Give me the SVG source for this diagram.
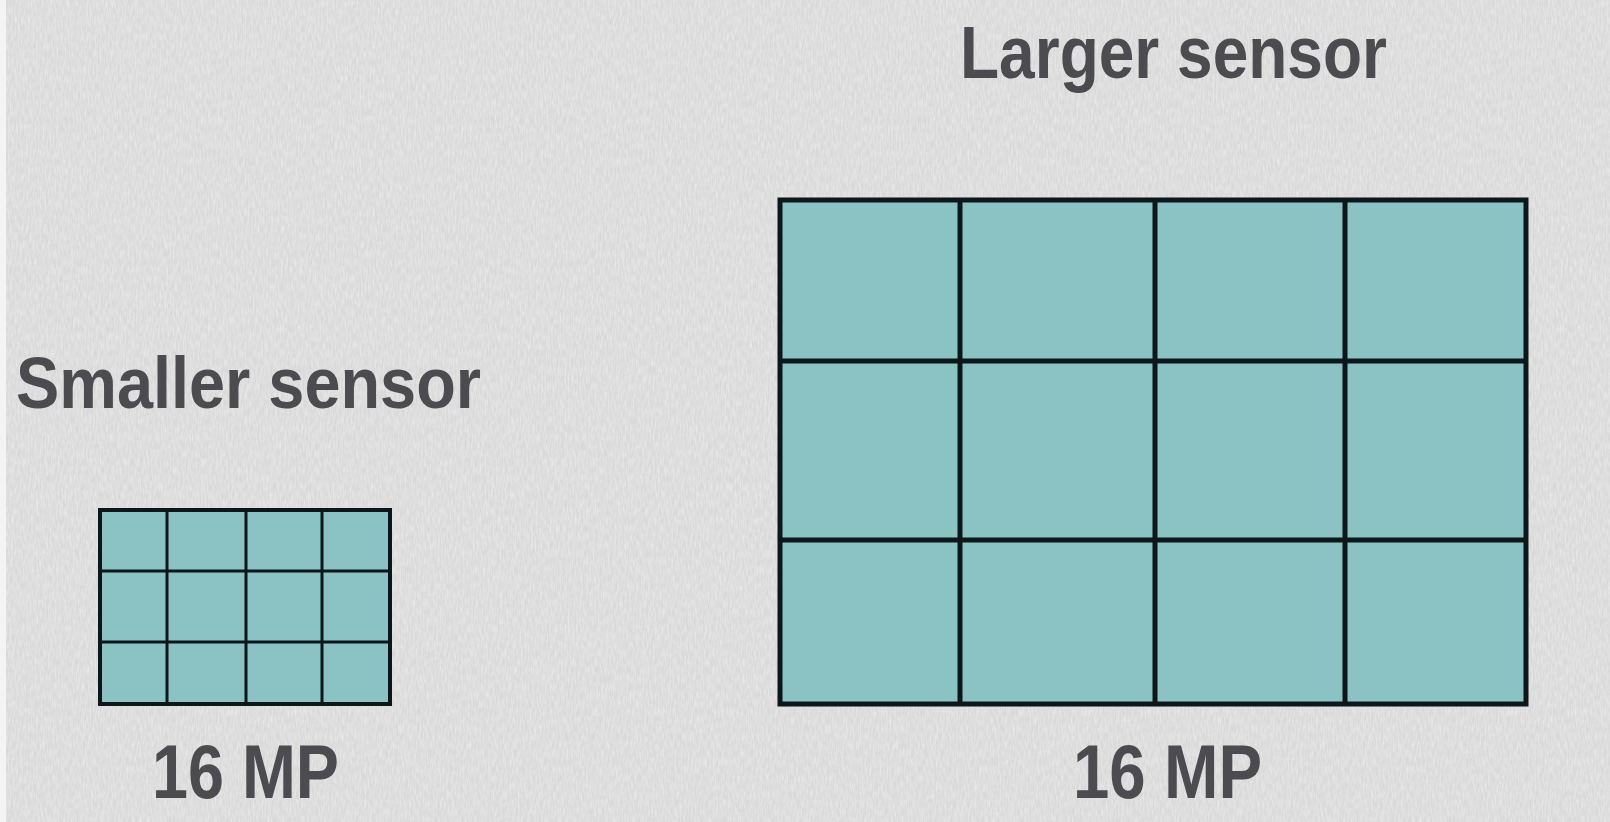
<svg xmlns="http://www.w3.org/2000/svg" width="1610" height="822" viewBox="0 0 1610 822">
<style>
.lbl{font-family:"Liberation Sans",Arial,sans-serif;font-weight:bold;fill:#4c4c50}
.cell{fill:#8bc3c5}
.line{stroke:#0d1719;fill:none}
</style>
<defs>
<filter id="paper" x="0" y="0" width="100%" height="100%">
<feTurbulence type="fractalNoise" baseFrequency="0.6 0.12" numOctaves="3" seed="4" result="n"/>
<feColorMatrix type="matrix" values="0 0 0 0 1  0 0 0 0 1  0 0 0 0 1  0 0 0 0.7 -0.22"/>
</filter>
</defs>
<rect x="0" y="0" width="1610" height="822" fill="#d9d9da"/>
<rect x="0" y="0" width="1610" height="822" filter="url(#paper)"/>
<rect x="0" y="0" width="6" height="822" fill="#f4f4f4"/>
<g id="large-title"><text class="lbl" x="960" y="78" font-size="75" textLength="427" lengthAdjust="spacingAndGlyphs">Larger sensor</text></g>
<g id="small-title"><text class="lbl" x="16" y="408" font-size="72" textLength="465" lengthAdjust="spacingAndGlyphs">Smaller sensor</text></g>
<g id="small-sensor">
<rect class="cell" x="100" y="510" width="290" height="194"/>
<g class="line" stroke-width="3">
<line x1="167" y1="510" x2="167" y2="704"/>
<line x1="246" y1="510" x2="246" y2="704"/>
<line x1="322" y1="510" x2="322" y2="704"/>
<line x1="100" y1="571" x2="390" y2="571"/>
<line x1="100" y1="642" x2="390" y2="642"/>
</g>
<rect class="line" x="100" y="510" width="290" height="194" stroke-width="4"/>
</g>
<g id="large-sensor">
<rect class="cell" x="780" y="200" width="746" height="504"/>
<g class="line" stroke-width="5">
<line x1="960" y1="200" x2="960" y2="704"/>
<line x1="1155" y1="200" x2="1155" y2="704"/>
<line x1="1345" y1="200" x2="1345" y2="704"/>
<line x1="780" y1="361" x2="1526" y2="361"/>
<line x1="780" y1="540" x2="1526" y2="540"/>
</g>
<rect class="line" x="780" y="200" width="746" height="504" stroke-width="5"/>
</g>
<g id="small-mp"><text class="lbl" x="152" y="798" font-size="76" textLength="187" lengthAdjust="spacingAndGlyphs">16 MP</text></g>
<g id="large-mp"><text class="lbl" x="1073" y="798" font-size="76" textLength="189" lengthAdjust="spacingAndGlyphs">16 MP</text></g>
<g id="connectors"/>
</svg>
